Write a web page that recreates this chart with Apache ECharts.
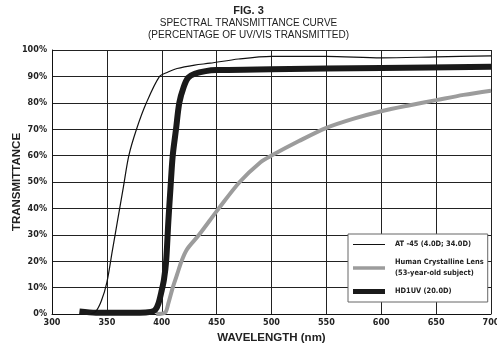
<!DOCTYPE html>
<html>
<head>
<meta charset="utf-8">
<script src="https://cdn.jsdelivr.net/npm/echarts@6/dist/echarts.min.js"></script>
<style>
  html, body { margin: 0; padding: 0; background: #fff; }
  #fig3 { width: 497px; height: 352px; }
</style>
</head>
<body>
<div id="fig3"></div>
<script>
// FIG. 3 spectral transmittance
var names = ['AT -45 (4.0D; 34.0D)', 'Human Crystalline Lens\n(53-year-old subject)', 'HD1UV (20.0D)'];

// [wavelength nm, transmittance %]
var at45 = [[335, 0], [340, 1], [345, 5], [350, 12], [355, 24], [360, 36], [365, 48], [370, 60],
  [377, 70], [386, 80], [398, 90], [405, 91.5], [414, 93], [430, 94.3], [444, 95], [470, 96.6],
  [500, 97.6], [550, 97.6], [600, 97], [650, 97.4], [700, 97.8]];
var lens = [[395, 0], [403, 0.5], [406, 4], [410, 10], [414, 15], [418, 20], [423, 24.5], [434, 30],
  [452, 40], [471, 50], [490, 57.5], [500, 60], [525, 65.5], [550, 70.5], [575, 74], [600, 76.8],
  [625, 79], [650, 81], [675, 83], [700, 84.6]];
var hd1uv = [[325, 1], [340, 0.5], [360, 0.5], [380, 0.5], [390, 0.8], [394, 1.5], [397, 4], [400, 9],
  [402, 13], [404, 20], [406, 35], [408, 48], [410, 60], [413, 70], [416, 80], [420, 86], [424, 89.5],
  [430, 91], [440, 92], [450, 92.4], [500, 92.7], [600, 93.2], [700, 93.7]];

var xTicks = { min: 300, max: 700, step: 50 };
var yTicks = { min: 0, max: 100, step: 10 };

var narrow = "'Liberation Sans Narrow', 'DejaVu Sans Condensed', 'Liberation Sans', sans-serif";
var sans = "'Liberation Sans', Arial, sans-serif";

// legend swatches: bars of different thickness inside a 32x10 box
function bar(h) {
  var a = 5 - h / 2, b = 5 + h / 2;
  return 'path://M0,0 M32,10 M0,' + a + ' L32,' + a + ' L32,' + b + ' L0,' + b + ' Z';
}

var dom = document.getElementById('fig3');
var myChart = echarts.init(dom, null, { renderer: 'canvas' });

var option = {
  animation: false,
  title: [
    {
      text: 'FIG. 3',
      left: 'center',
      top: 0,
      textStyle: { fontFamily: sans, fontSize: 11, fontWeight: 'bold', color: '#222' }
    },
    {
      text: 'SPECTRAL TRANSMITTANCE CURVE',
      left: 'center',
      top: 13,
      textStyle: { fontFamily: sans, fontSize: 10, fontWeight: 'normal', color: '#222' }
    },
    {
      text: '(PERCENTAGE OF UV/VIS TRANSMITTED)',
      left: 'center',
      top: 25,
      textStyle: { fontFamily: sans, fontSize: 10, fontWeight: 'normal', color: '#222' }
    }
  ],
  grid: { left: 52, right: 6, top: 50, bottom: 38, containLabel: false, outerBoundsMode: 'none' },
  legend: {
    data: [
      { name: names[0], icon: bar(1) },
      { name: names[1], icon: bar(3.5) },
      { name: names[2], icon: bar(5) }
    ],
    orient: 'vertical',
    left: 348,
    top: 234,
    padding: [5, 4, 5, 5],
    itemWidth: 32,
    itemHeight: 10,
    itemGap: 7,
    backgroundColor: '#fff',
    borderColor: '#666',
    borderWidth: 1,
    borderRadius: 0,
    textStyle: { fontFamily: narrow, fontSize: 7.4, fontWeight: 'bold', color: '#222', lineHeight: 11, padding: [0, 0, 0, 5] }
  },
  xAxis: {
    type: 'value',
    min: xTicks.min,
    max: xTicks.max,
    interval: xTicks.step,
    name: 'WAVELENGTH (nm)',
    nameLocation: 'middle',
    nameGap: 18,
    nameMoveOverlap: false,
    nameTextStyle: { fontFamily: sans, fontSize: 11.5, fontWeight: 'bold', color: '#222' },
    axisLine: { lineStyle: { color: '#111', width: 1 } },
    axisTick: { show: false },
    axisLabel: { margin: 4, fontFamily: narrow, fontSize: 9, fontWeight: 'bold', color: '#222' },
    splitLine: { show: true, lineStyle: { color: '#222', width: 1 } }
  },
  yAxis: {
    type: 'value',
    min: yTicks.min,
    max: yTicks.max,
    interval: yTicks.step,
    name: 'TRANSMITTANCE',
    nameLocation: 'middle',
    nameGap: 29,
    nameMoveOverlap: false,
    nameTextStyle: { fontFamily: sans, fontSize: 11.5, fontWeight: 'bold', color: '#222' },
    axisLine: { show: true, lineStyle: { color: '#111', width: 1 } },
    axisTick: { show: false },
    axisLabel: { margin: 5, formatter: '{value}%', fontFamily: narrow, fontSize: 9, fontWeight: 'bold', color: '#222' },
    splitLine: { show: true, lineStyle: { color: '#222', width: 1 } }
  },
  series: [
    {
      name: names[1],
      type: 'line',
      data: lens,
      symbol: 'none',
      smooth: 0.3,
      lineStyle: { color: '#9c9c9c', width: 4 },
      itemStyle: { color: '#9c9c9c' },
      z: 2
    },
    {
      name: names[2],
      type: 'line',
      data: hd1uv,
      symbol: 'none',
      smooth: 0.3,
      lineStyle: { color: '#1a1a1a', width: 6 },
      itemStyle: { color: '#1a1a1a' },
      z: 3
    },
    {
      name: names[0],
      type: 'line',
      data: at45,
      symbol: 'none',
      smooth: 0.3,
      lineStyle: { color: '#111', width: 1.2 },
      itemStyle: { color: '#111' },
      z: 4
    }
  ]
};

if (option && typeof option === 'object') {
  myChart.setOption(option);
}
</script>
</body>
</html>
